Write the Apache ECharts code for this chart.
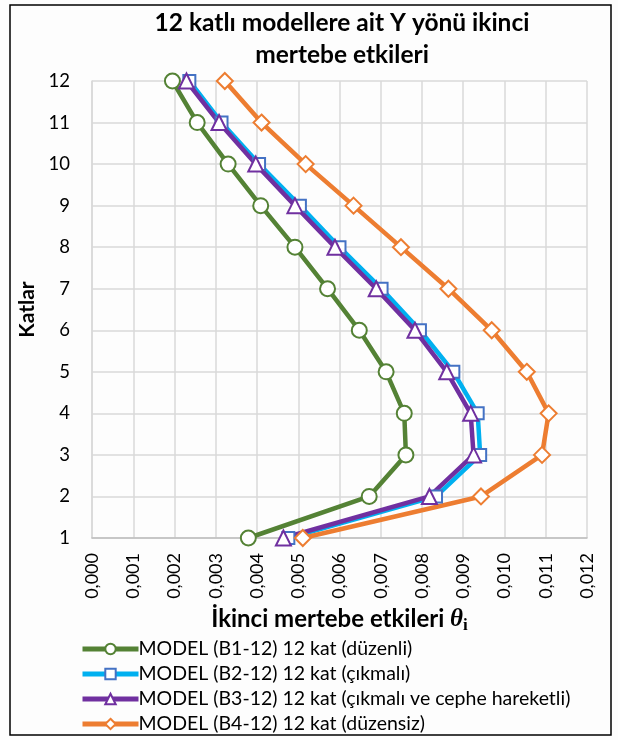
<!DOCTYPE html>
<html>
<head>
<meta charset="utf-8">
<script src="https://cdn.jsdelivr.net/npm/echarts@6/dist/echarts.min.js"></script>
<style>
  html, body { margin: 0; padding: 0; background: #fff; }
  #main { width: 618px; height: 740px; }
</style>
</head>
<body>
<div id="main"></div>
<script>
// kat numaralari
var floors = [1, 2, 3, 4, 5, 6, 7, 8, 9, 10, 11, 12];
var xTicks = [0, 0.001, 0.002, 0.003, 0.004, 0.005, 0.006, 0.007, 0.008, 0.009, 0.010, 0.011, 0.012];

var b1 = [0.00379, 0.00672, 0.00761, 0.00757, 0.00713, 0.00648, 0.00571, 0.00492, 0.00409, 0.00330, 0.00255, 0.00195];
var b2 = [0.00476, 0.00834, 0.00941, 0.00935, 0.00876, 0.00795, 0.00702, 0.00600, 0.00504, 0.00405, 0.00314, 0.00236];
var b3 = [0.00464, 0.00818, 0.00925, 0.00918, 0.00860, 0.00783, 0.00689, 0.00589, 0.00492, 0.00397, 0.00308, 0.00229];
var b4 = [0.00511, 0.00943, 0.01091, 0.01107, 0.01054, 0.00969, 0.00864, 0.00749, 0.00634, 0.00518, 0.00411, 0.00322];

var names = [
  'MODEL (B1-12) 12 kat (düzenli)',
  'MODEL (B2-12) 12 kat (çıkmalı)',
  'MODEL (B3-12) 12 kat (çıkmalı ve cephe hareketli)',
  'MODEL (B4-12) 12 kat (düzensiz)'
];

var font = 'Lato, "Noto Sans", sans-serif';

function pairs(vals) {
  return vals.map(function (v, i) { return [v, floors[i]]; });
}

function makeSeries(name, vals, lineColor, borderColor, symbol, size) {
  return {
    name: name,
    type: 'line',
    data: pairs(vals),
    symbol: symbol,
    symbolSize: size,
    showAllSymbol: true,
    lineStyle: { color: lineColor, width: 4.5 },
    itemStyle: { color: '#fff', borderColor: borderColor, borderWidth: 2 },
    emphasis: { disabled: true },
    z: 2
  };
}

var chart = echarts.init(document.getElementById('main'));

var option = {
  backgroundColor: '#fdfdfd',
  animation: false,
  title: {
    text: '12 katlı modellere ait Y yönü ikinci\nmertebe etkileri',
    left: 342,
    textAlign: 'center',
    top: 7,
    padding: 0,
    textStyle: { fontFamily: font, fontSize: 24.5, fontWeight: 'bold', color: '#000', lineHeight: 32 }
  },
  graphic: [{
    type: 'rect',
    shape: { x: 10, y: 5, width: 601, height: 730 },
    style: { fill: 'none', stroke: '#000', lineWidth: 1.5 },
    silent: true
  }],
  legend: {
    orient: 'vertical',
    left: 80,
    top: 639,
    height: 130,
    padding: 0,
    itemWidth: 56,
    itemHeight: 13,
    itemGap: 5,
    data: names,
    lineStyle: { width: 5 },
    textStyle: { fontFamily: font, fontSize: 19.5, color: '#000', padding: [0, 0, 0, -5] }
  },
  grid: { left: 92, right: 31, top: 81, bottom: 202 },
  xAxis: {
    type: 'value',
    min: 0,
    max: 0.012,
    interval: 0.001,
    name: '{a|İkinci mertebe etkileri }{b|θ}{c|i}',
    nameLocation: 'middle',
    nameGap: 63,
    nameTextStyle: {
      rich: {
        a: { fontFamily: font, fontSize: 24, fontWeight: 'bold', color: '#000' },
        b: { fontFamily: '"Liberation Serif", serif', fontSize: 25, fontStyle: 'italic', fontWeight: 'bold', color: '#000' },
        c: { fontFamily: '"Liberation Serif", serif', fontSize: 17, fontWeight: 'bold', color: '#000', verticalAlign: 'bottom', padding: [12, 0, 0, 0] }
      }
    },
    axisLine: { show: true, lineStyle: { color: '#bfbfbf', width: 1.5 } },
    axisTick: { show: false },
    axisLabel: {
      rotate: 90,
      margin: 15,
      fontFamily: font,
      fontSize: 18,
      color: '#000',
      formatter: function (v) { return v.toFixed(3).replace('.', ','); }
    },
    splitLine: { show: true, lineStyle: { color: '#d9d9d9', width: 1.5 } }
  },
  yAxis: {
    type: 'value',
    min: 1,
    max: 12,
    interval: 1,
    name: 'Katlar',
    nameLocation: 'middle',
    nameGap: 45,
    nameTextStyle: { fontFamily: font, fontSize: 21, fontWeight: 'bold', color: '#000' },
    axisLine: { show: true, lineStyle: { color: '#d9d9d9', width: 1.5 } },
    axisTick: { show: false },
    axisLabel: { margin: 22, fontFamily: font, fontSize: 18.5, color: '#000' },
    splitLine: { show: true, lineStyle: { color: '#d9d9d9', width: 1.5 } }
  },
  series: [
    makeSeries(names[0], b1, '#548235', '#548235', 'circle', 15),
    makeSeries(names[1], b2, '#00b0f0', '#4472c4', 'rect', 12),
    makeSeries(names[2], b3, '#7030a0', '#7030a0', 'triangle', 15),
    makeSeries(names[3], b4, '#ed7d31', '#ed7d31', 'diamond', 16)
  ]
};

chart.setOption(option);
</script>
</body>
</html>
